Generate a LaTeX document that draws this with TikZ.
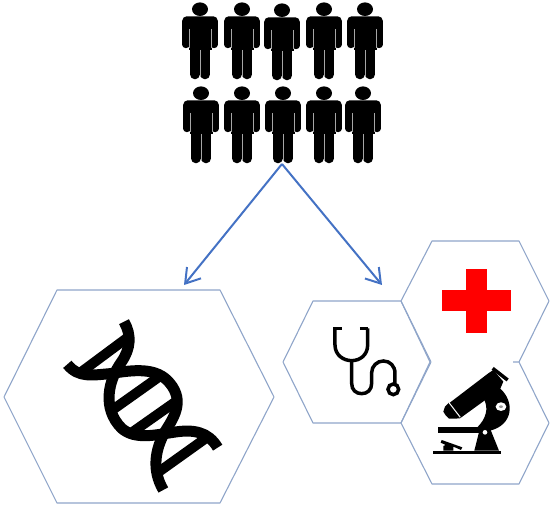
\documentclass[tikz,border=0pt]{standalone}
\usetikzlibrary{arrows.meta}
\definecolor{arrowblue}{HTML}{4472C4}
\definecolor{hexblue}{HTML}{8FA5C9}
\tikzset{
    person/.pic={
        \fill (0,6.2) ellipse [x radius=8, y radius=6.8];
        \fill[rounded corners=4.5] (-17.8,13.3) rectangle (17.8,32);
        \fill (-11.5,20) rectangle (11.5,47);
        \draw[line width=7.4, line cap=round] (-14.1,20) -- (-14.1,41.5);
        \draw[line width=7.4, line cap=round] (14.1,20) -- (14.1,41.5);
        \draw[line width=10, line cap=round] (-5.2,40) -- (-5.2,71.3);
        \draw[line width=10, line cap=round] (5.2,40) -- (5.2,71.3);
        \draw[white!65!black, line width=.6] (-10.9,26) -- (-10.9,45);
        \draw[white!65!black, line width=.6] (10.9,26) -- (10.9,45);
        \draw[white!65!black, line width=.6] (0,47) -- (0,74);
    }
}
\begin{document}
\begin{tikzpicture}[
        x=1pt, y=-1pt,
        hex/.style={draw=hexblue, line width=1.1pt, line join=round},
        arrow/.style={draw=arrowblue, line width=2pt, -{Straight Barb[length=14pt, width=18pt]}},
        strand/.style={line width=11pt},
        zoomed/.style={x=0.3333pt, y=-0.3333pt}
    ]
        \useasboundingbox (0,0) rectangle (550,526);

        % people
        \pic at (200,3) {person};
        \pic at (242,3) {person};
        \pic at (282,4) {person};
        \pic at (324,3) {person};
        \pic at (365,3) {person};
        \pic at (201,87) {person};
        \pic at (242,87) {person};
        \pic at (283,87) {person};
        \pic at (324,87) {person};
        \pic at (363,87) {person};

        \coordinate (apex) at (282,164);
        \coordinate (left) at (184,285);
        \coordinate (right) at (382,285);
        \draw[arrow] (apex) -- (left);
        \draw[arrow] (apex) -- (right);

        % hexagons
        \draw[hex] (4,397) -- (57,290) -- (220,290) -- (274,397) -- (220,503) -- (57,503) -- cycle;
        \draw[hex] (283,362) -- (313,301) -- (401,301) -- (430,362) -- (401,423) -- (313,423) -- cycle;
        \draw[hex] (519,362) -- (549,301) -- (519,241) -- (432,241) -- (401,301) -- (431,362) -- (401,423);
        \draw[hex] (513,362) -- (519,362) -- (549,423) -- (519,484) -- (432,484) -- (401,423);

        % cross
        \fill[red] (466,268.7) rectangle (486.7,332.7);
        \fill[red] (441.7,290.3) rectangle (511,311);

        % dna
        \begin{scope}[shift={(60,315)}, zoomed]
            \draw[strand] (192,20) .. controls (215,60) and (212,100) .. (185,140)
                .. controls (145,195) and (125,280) .. (185,340)
                .. controls (225,375) and (285,360) .. (340,352)
                .. controls (400,342) and (445,350) .. (473,398);
            \draw[strand] (22,148) .. controls (55,190) and (100,180) .. (150,176)
                .. controls (220,165) and (290,155) .. (330,205)
                .. controls (375,260) and (340,310) .. (315,350)
                .. controls (285,405) and (275,465) .. (310,525);
            \draw[line width=10pt] (65,170) -- (205,66);
            \draw[line width=10pt] (150,290) -- (305,180);
            \draw[line width=10pt] (205,360) -- (350,258);
            \draw[line width=10pt] (300,468) -- (440,368);
        \end{scope}

        % stethoscope
        \begin{scope}[shift={(280,230)}, zoomed]
            \draw[line width=3.5pt] (160,295) -- (185,295);
            \draw[line width=3.5pt] (240,295) -- (265,295);
            \draw[line width=3.5pt] (165,295) -- (165,345) .. controls (165,375) and (190,392) .. (215,392)
                .. controls (240,392) and (263,375) .. (263,345) -- (263,295);
            \draw[line width=3.5pt] (215,392) -- (215,460) .. controls (215,480) and (228,491) .. (245,491)
                .. controls (262,491) and (275,480) .. (275,460) -- (275,428)
                .. controls (275,408) and (292,393) .. (310,393)
                .. controls (330,393) and (345,408) .. (345,430) -- (345,462);
            \draw[line width=3.5pt] (340,478) circle [radius=16];
        \end{scope}

        % microscope
        \begin{scope}[shift={(425,360)}, zoomed]
            \fill (72,130) -- (190,40) -- (205,30) -- (235,65) -- (225,88) -- (105,175) -- cycle;
            \draw[line width=3.5pt] (203,25) -- (248,60);
            \fill (60,140) -- (72,128) -- (105,175) -- (88,176) -- (72,176) -- (62,166) -- (55,155) -- cycle;
            \draw[white, line width=1pt] (72,128) -- (106,172);
            \fill (225,85) .. controls (270,125) and (265,195) .. (195,212) -- (155,204)
                .. controls (185,175) and (190,145) .. (178,120) -- cycle;
            \fill (228,140) ellipse [x radius=23, y radius=21];
            \fill[white] (228,140) ellipse [x radius=16, y radius=13];
            \fill[white!60!black] (228,140) ellipse [x radius=6, y radius=4];
            \fill (38,202) rectangle (170,218);
            \fill (165,205) -- (195,205) -- (222,272) -- (148,272) -- cycle;
            \fill[white] (180,217) circle [radius=7];
            \fill (25,272) rectangle (228,282);
            \fill (50,240) -- (112,262) -- (108,270) -- (85,260) -- (85,272) -- (55,272) -- (55,258) -- (62,255) -- (47,248) -- cycle;
        \end{scope}
    \end{tikzpicture}
\end{document}
